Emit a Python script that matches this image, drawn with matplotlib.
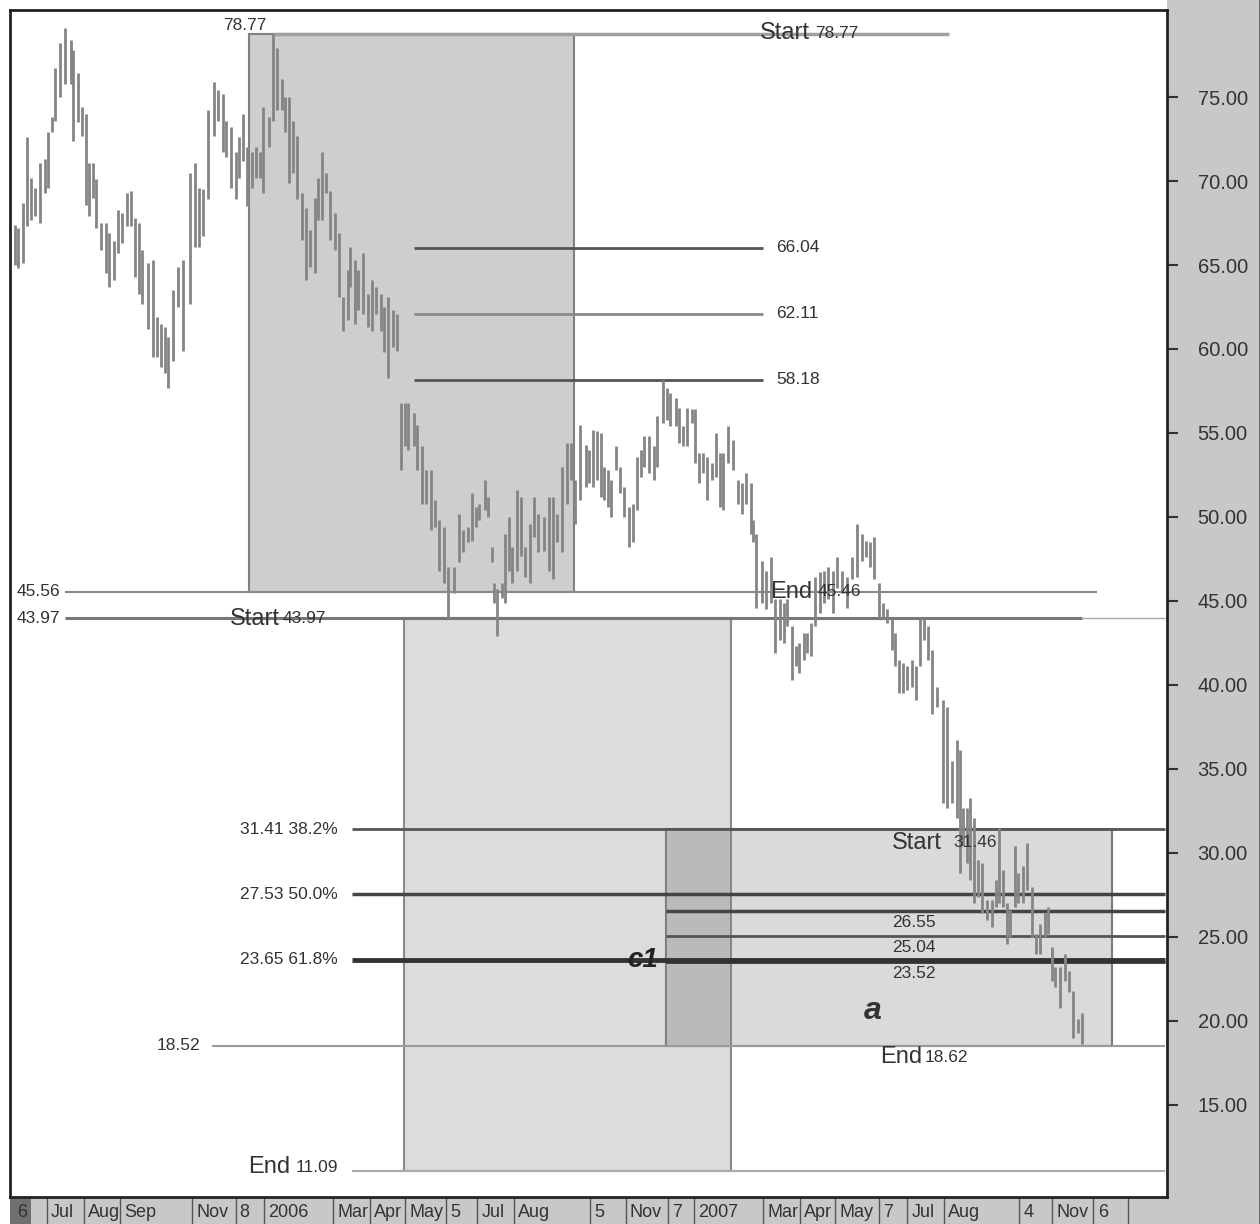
import datetime as dt
import numpy as np
import matplotlib
matplotlib.use("Agg")
import matplotlib.pyplot as plt
import matplotlib.dates as mdates
from matplotlib.patches import Rectangle

plt.rcParams['font.family'] = ['Liberation Sans Narrow', 'Liberation Sans', 'DejaVu Sans']

# price bars: day offset from 1 Jul 2005, high, low
base = dt.date(2005, 7, 1)
bar_day = [
    -27, -25, -20, -17, -14, -10, -6, -2, 1, 4, 7, 11, 15, 20, 22, 26, 30, 33, 36, 39,
    42, 46, 50, 53, 57, 60, 64, 68, 71, 75, 78, 81, 86, 90, 93, 97, 100, 103, 107, 111,
    115, 121, 126, 129, 132, 137, 142, 145, 149, 152, 156, 160, 163, 166, 170, 174, 177, 181, 183, 188,
    192, 195, 199, 202, 205, 209, 212, 216, 220, 223, 227, 230, 233, 237, 240, 244, 248, 251, 255, 257,
    261, 264, 268, 272, 276, 279, 283, 286, 289, 294, 297, 300, 304, 306, 311, 314, 318, 322, 326, 329,
    333, 337, 340, 345, 350, 353, 357, 361, 364, 367, 372, 374, 378, 379, 382, 386, 389, 392, 395, 399,
    402, 406, 410, 413, 417, 422, 426, 429, 433, 437, 441, 445, 448, 452, 457, 460, 463, 467, 470, 473,
    476, 479, 483, 486, 490, 494, 497, 501, 504, 507, 511, 515, 518, 523, 526, 529, 534, 536, 540, 543,
    547, 550, 553, 557, 560, 564, 568, 571, 574, 578, 582, 586, 590, 593, 597, 599, 602, 607, 610, 614,
    618, 622, 625, 628, 632, 636, 638, 642, 645, 648, 652, 656, 659, 663, 667, 670, 675, 679, 683, 687,
    692, 695, 698, 702, 706, 709, 713, 717, 720, 723, 726, 730, 734, 737, 741, 744, 748, 751, 755, 760,
    764, 768, 772, 775, 777, 781, 783, 787, 790, 793, 798, 802, 805, 808, 811, 815, 817, 821, 824, 828,
    832, 836, 839, 843, 847, 849, 853, 855, 860, 864, 867, 871, 875, 878,
]
bar_high = [
    67.4, 67.2, 68.7, 72.6, 70.2, 69.6, 71.1, 71.3, 72.9, 73.8, 76.7, 78.2, 79.1, 78.4, 77.8, 76.4, 74.4, 74.0, 71.1, 71.1,
    70.1, 67.5, 67.5, 66.9, 66.4, 68.3, 68.1, 69.3, 69.4, 67.8, 67.5, 65.9, 65.1, 65.3, 61.9, 61.5, 61.3, 60.7, 63.5, 64.9,
    65.3, 70.5, 71.1, 69.6, 69.5, 74.2, 75.9, 75.4, 75.2, 73.6, 73.2, 71.7, 72.6, 74.0, 72.0, 71.7, 72.0, 71.7, 74.4, 73.8,
    78.77, 77.9, 76.1, 75.0, 75.0, 73.6, 72.7, 69.3, 68.4, 67.1, 69.0, 70.2, 71.7, 70.5, 69.4, 68.1, 66.9, 63.1, 64.7, 66.1,
    65.3, 64.7, 65.7, 63.3, 64.1, 63.7, 63.3, 62.5, 63.1, 62.3, 62.1, 56.8, 56.8, 56.8, 56.2, 55.5, 54.2, 52.8, 52.8, 51.0,
    49.8, 49.4, 47.0, 47.0, 50.2, 49.2, 49.4, 51.4, 50.6, 50.8, 52.2, 51.2, 48.2, 46.1, 45.7, 46.1, 49.0, 50.0, 48.2, 51.6,
    51.2, 48.2, 49.6, 51.2, 50.2, 50.0, 51.2, 51.2, 50.2, 53.0, 54.4, 54.4, 52.2, 55.5, 54.3, 54.0, 55.2, 55.1, 55.0, 53.0,
    52.8, 52.2, 54.2, 53.0, 51.8, 50.6, 50.8, 53.6, 54.0, 54.8, 54.8, 54.2, 56.0, 58.18, 57.7, 57.4, 57.1, 56.5, 55.4, 56.5,
    56.4, 56.4, 53.8, 53.8, 53.6, 53.2, 55.0, 53.8, 53.8, 55.4, 54.6, 52.2, 52.0, 52.6, 52.0, 49.8, 49.0, 47.4, 46.8, 47.6,
    45.1, 45.1, 44.9, 45.1, 43.5, 42.3, 42.5, 43.1, 43.1, 43.7, 46.4, 46.7, 46.8, 47.0, 46.8, 47.6, 46.8, 46.4, 47.6, 49.6,
    49.0, 48.6, 48.5, 48.8, 46.1, 44.9, 44.5, 43.9, 43.1, 41.5, 41.3, 41.1, 41.5, 41.1, 44.0, 44.0, 43.5, 42.1, 39.9, 39.1,
    38.7, 35.5, 36.7, 36.1, 32.7, 32.7, 33.3, 32.1, 29.6, 29.4, 27.2, 27.2, 28.4, 31.46, 29.0, 27.0, 26.6, 30.4, 28.8, 29.2,
    30.6, 28.0, 25.2, 25.8, 26.4, 26.8, 24.4, 23.2, 23.2, 24.0, 23.0, 21.8, 20.1, 20.5,
]
bar_low = [
    65.0, 64.8, 65.1, 67.3, 67.7, 67.9, 67.5, 69.3, 69.6, 72.9, 73.6, 75.0, 75.8, 75.8, 72.4, 73.5, 72.7, 68.6, 67.9, 69.0,
    67.2, 65.9, 64.5, 63.7, 64.1, 65.7, 66.3, 67.3, 67.3, 64.3, 63.3, 62.7, 61.2, 59.5, 59.5, 58.9, 58.6, 57.7, 59.3, 62.5,
    59.9, 62.7, 66.1, 66.1, 66.7, 68.9, 72.7, 73.6, 71.7, 71.4, 69.6, 68.9, 70.2, 71.2, 68.5, 69.6, 70.2, 70.2, 69.3, 72.0,
    73.6, 74.2, 74.2, 72.9, 69.9, 70.5, 68.9, 66.5, 64.1, 64.9, 64.5, 67.7, 67.7, 69.3, 66.5, 65.9, 63.1, 61.1, 61.7, 63.7,
    61.5, 62.3, 62.1, 61.3, 61.1, 62.1, 61.1, 59.8, 58.3, 60.1, 59.9, 52.8, 54.2, 54.0, 54.2, 52.8, 50.8, 50.8, 49.2, 49.4,
    46.8, 46.1, 43.97, 45.5, 47.3, 47.9, 48.5, 48.6, 49.4, 49.8, 50.4, 50.0, 47.3, 44.9, 42.9, 45.2, 44.9, 46.8, 46.1, 46.8,
    47.7, 46.4, 46.1, 48.8, 47.9, 48.0, 46.8, 46.3, 48.5, 47.9, 50.8, 52.2, 49.6, 51.0, 51.8, 52.0, 51.8, 52.2, 51.2, 51.0,
    50.6, 50.0, 52.8, 51.4, 50.0, 48.2, 48.5, 50.4, 52.4, 53.0, 52.6, 52.2, 53.0, 55.6, 55.8, 55.4, 55.4, 54.4, 54.2, 54.2,
    55.6, 53.2, 52.0, 52.6, 51.0, 52.2, 52.4, 50.6, 50.4, 53.2, 52.8, 50.8, 50.2, 50.8, 49.0, 48.5, 44.6, 44.9, 44.5, 44.9,
    41.9, 42.7, 42.5, 43.5, 40.3, 41.1, 40.7, 41.5, 41.9, 41.7, 43.5, 44.3, 44.9, 45.1, 44.3, 45.8, 45.5, 44.6, 46.3, 46.4,
    47.4, 47.6, 47.0, 46.3, 44.0, 44.0, 43.7, 42.1, 41.1, 39.5, 39.5, 39.7, 39.9, 39.1, 41.1, 42.7, 41.5, 38.3, 38.7, 33.0,
    32.7, 33.0, 32.1, 28.8, 30.4, 29.4, 28.4, 27.0, 27.4, 26.4, 26.0, 25.6, 26.8, 27.0, 26.8, 24.6, 25.0, 26.8, 27.0, 27.0,
    27.8, 25.0, 24.0, 24.0, 25.0, 25.2, 22.4, 22.0, 20.8, 22.4, 21.7, 19.0, 19.3, 18.62,
]

# date strip labels
tick_labels = ["6", "Jul", "Aug", "Sep", "Nov", "8", "2006", "Mar", "Apr", "May", "5", "Jul", "Aug",
               "5", "Nov", "7", "2007", "Mar", "Apr", "May", "7", "Jul", "Aug", "4", "Nov", "6", ""]
tick_dates = ["2005-06-02", "2005-07-01", "2005-08-01", "2005-09-01", "2005-11-01", "2005-12-08",
              "2006-01-01", "2006-03-01", "2006-04-01", "2006-05-01", "2006-06-05", "2006-07-01",
              "2006-08-01", "2006-10-05", "2006-11-04", "2006-12-10", "2007-01-01", "2007-03-01",
              "2007-04-01", "2007-05-01", "2007-06-07", "2007-07-01", "2007-08-01", "2007-10-04",
              "2007-11-01", "2007-12-06", "2008-01-04"]

# swings and levels
swing1 = [78.77, 45.56]
swing2 = [43.97, 11.09]
swing3 = [31.46, 18.62]
proj_levels = [66.04, 62.11, 58.18]
fib_levels = [31.41, 27.53, 23.65]
fib_pct = ["38.2%", "50.0%", "61.8%"]
a_levels = [26.55, 25.04, 23.52]
low_line = 18.52

b0 = mdates.date2num(base)


def X(d):
    return b0 + np.asarray(d)


W, H = 1260, 1224
fig = plt.figure(figsize=(W / 100, H / 100), dpi=100)
xlim = (X(-31.4), X(950.4))

# right grey panel
side = fig.add_axes([1167 / W, 0, 93 / W, 1])
side.set_facecolor('#c8c8c8')
side.set_xticks([])
side.set_yticks([])
for s in ['top', 'bottom', 'left']:
    side.spines[s].set_visible(False)
side.spines['right'].set_color('#666')
side.spines['right'].set_linewidth(2)

# bottom date strip
strip = fig.add_axes([10 / W, 0, 1157 / W, 27 / H])
strip.set_facecolor('#c8c8c8')
strip.set_xlim(*xlim)
strip.set_ylim(0, 1)
strip.set_xticks([])
strip.set_yticks([])
for s in strip.spines.values():
    s.set_visible(False)
strip.axvspan(xlim[0], X(-14), color='#707070', lw=0)
for lab, d in zip(tick_labels, tick_dates):
    xd = mdates.date2num(dt.date.fromisoformat(d))
    if d != "2005-06-02":
        strip.axvline(xd, color='#555', lw=1)
    strip.annotate(lab, (xd, 0.42), xycoords='data', xytext=(3, 0), textcoords='offset points',
                   ha='left', va='center', fontsize=13, color='#333')

# main chart
ax = fig.add_axes([10 / W, 27 / H, 1157 / W, 1187 / H])
ax.set_xlim(*xlim)
ax.set_ylim(9.52, 80.18)
ax.tick_params(axis='x', bottom=False, labelbottom=False)
ax.yaxis.tick_right()
ax.set_yticks(range(15, 80, 5))
ax.set_yticklabels([f"{v:.2f}" for v in range(15, 80, 5)])
ax.tick_params(axis='y', direction='out', length=8, width=1.5, pad=14, labelsize=14.5,
               colors='#333')
for s in ax.spines.values():
    s.set_color('#222')
    s.set_linewidth(2)

# boxes
ax.add_patch(Rectangle((X(171), swing1[1]), 276, swing1[0] - swing1[1],
                       facecolor='#cecece', edgecolor='#808080', lw=1.5, zorder=1))
ax.add_patch(Rectangle((X(303), swing2[1]), 277, swing2[0] - swing2[1],
                       facecolor='#dcdcdc', edgecolor='#8a8a8a', lw=1.5, zorder=1))
ax.add_patch(Rectangle((X(525), low_line), 379, fib_levels[0] - low_line,
                       facecolor='#dadada', edgecolor='#7a7a7a', lw=1.5, zorder=1.1))
ax.add_patch(Rectangle((X(525), low_line), 55, fib_levels[0] - low_line,
                       facecolor='#bababa', edgecolor='#7a7a7a', lw=1.2, zorder=1.2))

# horizontal levels
ax.hlines(swing1[0], X(192), X(765), color='#a0a0a0', lw=2.5, zorder=2)
ax.hlines(proj_levels, X(311), X(608), color=['#555', '#8a8a8a', '#555'], lw=2, zorder=2)
ax.hlines(swing1[1], X(15), X(891), color='#8a8a8a', lw=1.5, zorder=2)
ax.hlines(swing2[0], X(15), X(878), color='#777', lw=2.2, zorder=2)
ax.hlines(swing2[0], X(878), X(949), color='#aaa', lw=1, zorder=2)
ax.hlines(fib_levels, X(259), X(949), color=['#555', '#444', '#333'], lw=[2, 2.5, 3.5], zorder=2)
ax.hlines(a_levels, X(525), X(949), color=['#444', '#555', '#333'], lw=[2.5, 2, 2], zorder=2)
ax.hlines(low_line, X(140), X(949), color='#9a9a9a', lw=1.5, zorder=2)
ax.hlines(swing2[1], X(259), X(949), color='#aaa', lw=1.5, zorder=2)

# price bars
ax.vlines(X(bar_day), bar_low, bar_high, color='#858585', lw=2.0, zorder=3)

TC = '#333'
SMALL = 12.5
BIG = 17


def pair(d_big, d_small, y, big, small):
    ax.text(X(d_big), y, big, fontsize=BIG, color=TC, ha='left', va='center', zorder=4)
    ax.text(X(d_small), y, small, fontsize=SMALL, color=TC, ha='left', va='center', zorder=4)


ax.text(X(186), 79.25, f"{swing1[0]:.2f}", fontsize=SMALL, color=TC, ha='right', va='center')
pair(605, 652, 78.8, "Start", f"{swing1[0]:.2f}")
for lv in proj_levels:
    ax.text(X(619), lv, f"{lv:.2f}", fontsize=SMALL, color=TC, ha='left', va='center')
ax.text(X(11), swing1[1], f"{swing1[1]:.2f}", fontsize=SMALL, color=TC, ha='right', va='center')
ax.text(X(11), swing2[0], f"{swing2[0]:.2f}", fontsize=SMALL, color=TC, ha='right', va='center')
pair(155, 200, 43.95, "Start", f"{swing2[0]:.2f}")
pair(614, 654, 45.55, "End", "45.46")
for lv, p in zip(fib_levels, fib_pct):
    ax.text(X(247), lv, f"{lv:.2f} {p}", fontsize=SMALL, color=TC, ha='right', va='center')
ax.text(X(130), low_line, f"{low_line:.2f}", fontsize=SMALL, color=TC, ha='right', va='center')
pair(171, 211, 11.3, "End", f"{swing2[1]:.2f}")
pair(717, 769, 30.6, "Start", f"{swing3[0]:.2f}")
pair(707, 745, 17.85, "End", f"{swing3[1]:.2f}")
for lv in a_levels:
    ax.text(X(717), lv - 0.68, f"{lv:.2f}", fontsize=SMALL, color=TC, ha='left', va='center', zorder=4)
ax.text(X(492), fib_levels[2], "c1", fontsize=20, fontweight='bold', fontstyle='italic',
        color='#222', ha='left', va='center', zorder=4)
ax.text(X(693), 20.6, "a", fontsize=23, fontweight='bold', fontstyle='italic',
        color='#333', ha='left', va='center', zorder=4)

fig.savefig('out.png', dpi=100)
